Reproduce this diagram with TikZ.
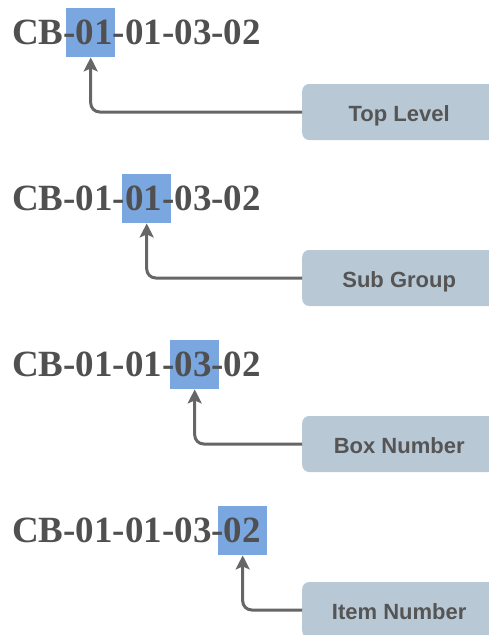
\documentclass[tikz,border=0pt]{standalone}
\usepackage{fontspec}
\setmainfont{Liberation Serif}
\newfontfamily\labelfont{Liberation Sans}
\usetikzlibrary{arrows.meta}
\definecolor{codegray}{HTML}{505050}
\definecolor{hlblue}{HTML}{7BA7E1}
\definecolor{tagfill}{HTML}{B9C8D5}
\definecolor{tagtext}{HTML}{555555}
\definecolor{linkgray}{HTML}{666666}
\tikzset{
  x=1pt, y=-1pt,
  code/.style={anchor=base west, inner sep=0pt, text=codegray,
    font=\fontsize{37}{40}\selectfont\bfseries},
  hl/.style={fill=hlblue, draw=none, minimum width=49pt, minimum height=49pt,
    inner sep=0pt, anchor=north west},
  tag/.style={fill=tagfill, draw=none, rounded corners=7pt, anchor=west,
    minimum width=194pt, minimum height=56pt, inner sep=0pt, text=tagtext,
    text height=20pt, text depth=0.6pt,
    font=\labelfont\fontsize{22}{26}\selectfont\bfseries},
  link/.style={draw=linkgray, line width=3pt, rounded corners=9pt,
    -{Stealth[length=14pt,width=14pt,inset=3pt]}}
}
\begin{document}
\begin{tikzpicture}
\useasboundingbox (0,0) rectangle (488,635);

% highlighted segment of each code
\node[hl] (hl1) at (66,8) {};
\node[hl] (hl2) at (122,174) {};
\node[hl] (hl3) at (170,340) {};
\node[hl] (hl4) at (218,506) {};

% the codes themselves
\node[code] (c1) at (12,44) {CB-01-01-03-02};
\node[code] (c2) at (12,210) {CB-01-01-03-02};
\node[code] (c3) at (12,376) {CB-01-01-03-02};
\node[code] (c4) at (12,542) {CB-01-01-03-02};

% explanation tags
\node[tag] (t1) at (302,112) {Top Level};
\node[tag] (t2) at (302,278) {Sub Group};
\node[tag] (t3) at (302,444) {Box Number};
\node[tag] (t4) at (302,610) {Item Number};

% connectors from tag to segment
\draw[link] (t1.west) -| (hl1.south);
\draw[link] (t2.west) -| (hl2.south);
\draw[link] (t3.west) -| (hl3.south);
\draw[link] (t4.west) -| (hl4.south);
\end{tikzpicture}
\end{document}
